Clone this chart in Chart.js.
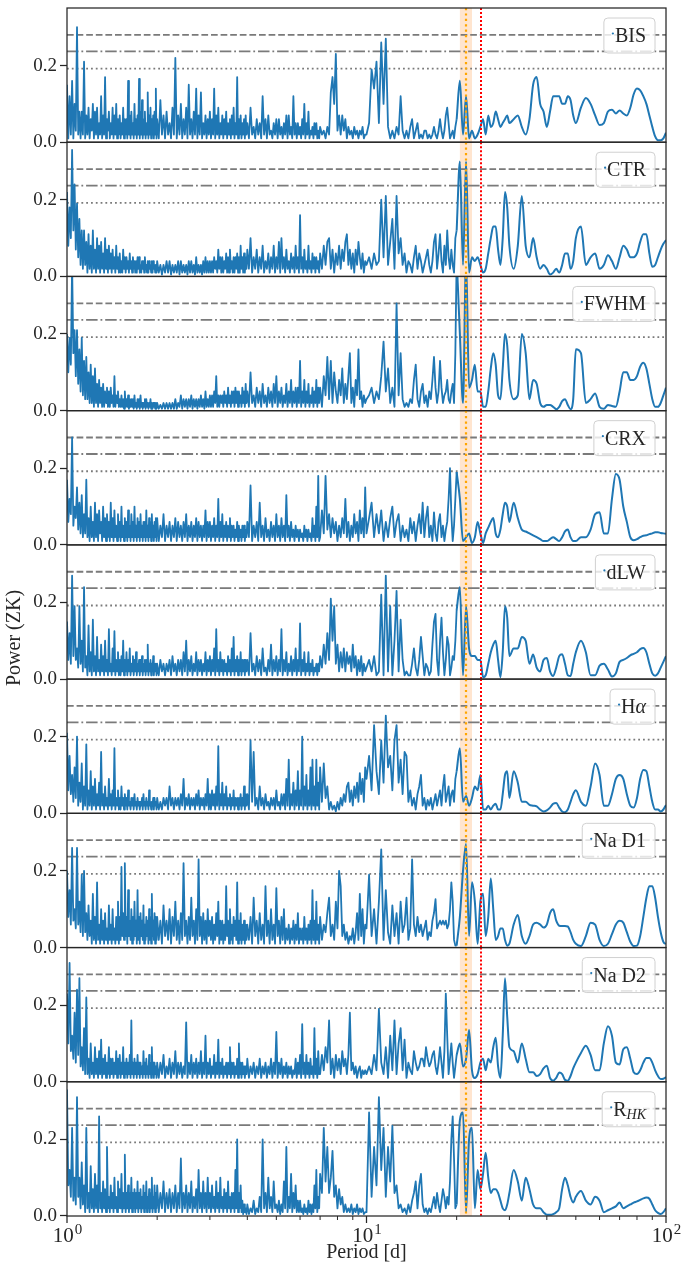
<!DOCTYPE html>
<html>
<head>
<meta charset="utf-8">
<script src="https://cdn.jsdelivr.net/npm/chart.js@4.4.0/dist/chart.umd.min.js"></script>
<style>
  html, body { margin: 0; padding: 0; background: #fff; }
  canvas { display: block; }
</style>
</head>
<body>
<canvas id="chart" width="681" height="1271"></canvas>
<script>
// period grid [d], shared by every panel
const periods = [
  1.00,1.01,1.02,1.03,1.04,1.05,1.06,1.07,1.08,1.09,1.10,1.11,1.12,1.13,1.14,1.15,1.16,1.17,1.18,1.19,1.20,1.21,1.22,1.23,1.24,
  1.25,1.26,1.27,1.28,1.29,1.30,1.31,1.32,1.33,1.34,1.35,1.36,1.37,1.38,1.39,1.40,1.41,1.42,1.43,1.44,1.45,1.46,1.47,1.48,1.49,
  1.50,1.51,1.52,1.53,1.54,1.55,1.56,1.57,1.58,1.59,1.60,1.61,1.62,1.63,1.64,1.65,1.66,1.67,1.68,1.69,1.70,1.71,1.72,1.73,1.74,
  1.75,1.76,1.77,1.78,1.79,1.80,1.81,1.82,1.83,1.84,1.85,1.86,1.87,1.88,1.89,1.90,1.91,1.92,1.93,1.94,1.95,1.96,1.97,1.98,1.99,
  2.000,2.025,2.050,2.075,2.100,2.125,2.150,2.175,2.200,2.225,2.250,2.275,2.300,2.325,2.350,2.375,2.400,2.425,2.450,2.475,
  2.500,2.525,2.550,2.575,2.600,2.625,2.650,2.675,2.700,2.725,2.750,2.775,2.800,2.825,2.850,2.875,2.900,2.925,2.950,2.975,
  3.000,3.025,3.050,3.075,3.100,3.125,3.150,3.175,3.200,3.225,3.250,3.275,3.300,3.325,3.350,3.375,3.400,3.425,3.450,3.475,
  3.500,3.525,3.550,3.575,3.600,3.625,3.650,3.675,3.700,3.725,3.750,3.775,3.800,3.825,3.850,3.875,3.900,3.925,3.950,3.975,
  4.00,4.05,4.10,4.15,4.20,4.25,4.30,4.35,4.40,4.45,4.50,4.55,4.60,4.65,4.70,4.75,4.80,4.85,4.90,4.95,
  5.00,5.05,5.10,5.15,5.20,5.25,5.30,5.35,5.40,5.45,5.50,5.55,5.60,5.65,5.70,5.75,5.80,5.85,5.90,5.95,
  6.00,6.05,6.10,6.15,6.20,6.25,6.30,6.35,6.40,6.45,6.50,6.55,6.60,6.65,6.70,6.75,6.80,6.85,6.90,6.95,
  7.0,7.1,7.2,7.3,7.4,7.5,7.6,7.7,7.8,7.9,
  8.0,8.1,8.2,8.3,8.4,8.5,8.6,8.7,8.8,8.9,9.0,9.1,9.2,9.3,9.4,9.5,9.6,9.7,9.8,9.9,
  10.0,10.2,10.4,10.6,10.8,11.0,11.2,11.4,11.6,11.8,12.0,12.2,12.4,12.6,12.8,13.0,13.2,13.4,13.6,13.8,14.0,14.2,14.4,14.6,14.8,
  15.0,15.2,15.4,15.6,15.8,16.0,16.2,16.4,16.6,16.8,17.0,17.2,17.4,17.6,17.8,18.0,18.2,18.4,18.6,18.8,19.0,19.2,19.4,19.6,19.8,
  20,20.5,21,21.5,22,22.5,23,23.5,24,24.5,25,25.5,26,26.5,27,27.5,28,28.5,29,29.5,
  30,31,32,33,34,35,36,37,38,39,40,41,42,43,44,45,46,47,48,49,
  50,52,54,56,58,60,62,64,66,68,70,72,74,76,78,80,82,84,86,88,90,92,94,96,98,100
];

// ZK power, one array per activity indicator
const bis = [
  .15,.01,.12,.02,.16,.01,.10,.03,.30,.02,.08,.01,.08,.02,.21,.01,.07,.02,.09,.01,.06,.03,.10,.01,.08,
  .02,.09,.01,.05,.02,.12,.01,.07,.02,.17,.01,.06,.03,.08,.01,.05,.02,.09,.01,.07,.02,.10,.01,.06,.02,
  .07,.01,.05,.02,.09,.01,.06,.02,.06,.01,.16,.02,.07,.01,.08,.02,.05,.01,.10,.02,.06,.01,.07,.02,.165,
  .01,.08,.02,.11,.01,.06,.02,.08,.01,.05,.02,.13,.01,.07,.02,.09,.01,.06,.02,.07,.01,.08,.02,.14,.01,
  .06,.01,.11,.02,.07,.01,.08,.02,.05,.01,.09,.02,.22,.01,.07,.02,.10,.01,.06,.02,.09,.01,.15,.02,.06,.01,.08,.02,.14,.01,.07,.02,.13,.01,.05,.02,.07,.01,.06,.02,
  .08,.01,.06,.02,.14,.01,.07,.02,.09,.01,.05,.02,.07,.01,.06,.02,.08,.01,.05,.02,.06,.01,.07,.02,.09,.01,.05,.02,.17,.01,.06,.02,.07,.01,.05,.02,.06,.01,.07,.02,
  .05,.01,.09,.02,.04,.01,.06,.02,.05,.01,.12,.02,.06,.01,.07,.02,.03,.01,.05,.02,
  .06,.01,.06,.02,.04,.01,.05,.02,.07,.01,.07,.02,.04,.01,.12,.02,.05,.01,.05,.02,
  .04,.01,.06,.02,.10,.01,.05,.02,.08,.01,.03,.02,.04,.01,.05,.02,.05,.01,.03,.01,
  .04,.02,.03,.01,.04,.02,.13,.17,.10,.23,
  .03,.07,.02,.07,.03,.06,.01,.04,.02,.03,.01,.04,.02,.03,.01,.03,.02,.04,.01,.02,
  .02,.05,.19,.14,.21,.05,.26,.10,.27,.04,.01,.03,.01,.04,.02,.12,.03,.01,.03,.01,.04,.06,.01,.03,.05,
  .01,.02,.01,.03,.03,.01,.02,.01,.02,.04,.02,.01,.03,.06,.03,.01,.03,.07,.09,.05,.01,.02,.03,.01,.04,
  .06,.16,.02,.12,.01,.03,.01,.02,.04,.06,.02,.07,.04,.05,.08,.06,.04,.05,.06,.07,
  .05,.06,.07,.04,.02,.06,.15,.17,.10,.08,.04,.08,.12,.12,.12,.10,.10,.12,.11,.07,
  .05,.09,.115,.10,.07,.045,.05,.08,.085,.075,.083,.075,.07,.09,.125,.14,.135,.12,.10,.07,.04,.015,.005,.005,.01,.025
];
const ctr = [
  .22,.08,.18,.10,.33,.12,.24,.07,.19,.05,.15,.03,.12,.02,.12,.03,.09,.01,.11,.02,.08,.01,.12,.02,.07,
  .01,.10,.02,.08,.01,.09,.02,.06,.01,.10,.02,.07,.01,.08,.02,.06,.01,.07,.02,.05,.01,.08,.02,.05,.01,
  .06,.01,.04,.01,.07,.02,.05,.01,.05,.02,.04,.01,.06,.02,.04,.01,.05,.02,.04,.01,.04,.01,.05,.02,.05,
  .01,.03,.01,.04,.02,.04,.01,.05,.02,.03,.01,.04,.01,.04,.02,.03,.01,.04,.01,.04,.02,.03,.01,.03,.01,
  .04,.01,.03,.005,.03,.01,.04,.01,.04,.005,.03,.01,.03,.01,.04,.005,.04,.01,.03,.01,.03,.005,.04,.01,.04,.01,.03,.005,.05,.01,.03,.01,.03,.005,.04,.01,.05,.01,.04,.01,
  .04,.01,.04,.01,.05,.02,.04,.01,.07,.02,.05,.01,.05,.01,.04,.02,.06,.01,.05,.01,.07,.02,.04,.01,.05,.01,.05,.02,.06,.01,.05,.01,.08,.02,.05,.01,.06,.01,.05,.02,
  .07,.02,.10,.01,.05,.02,.07,.01,.05,.02,.08,.01,.04,.02,.06,.01,.05,.02,.08,.01,
  .05,.02,.09,.01,.10,.02,.05,.01,.07,.02,.04,.01,.06,.02,.05,.01,.08,.02,.05,.01,
  .16,.02,.05,.01,.07,.02,.04,.01,.08,.02,.04,.01,.06,.02,.05,.01,.05,.02,.04,.01,
  .06,.02,.08,.03,.09,.10,.02,.07,.01,.06,
  .03,.08,.02,.07,.04,.09,.11,.03,.07,.02,.06,.01,.07,.03,.09,.05,.02,.06,.01,.04,
  .03,.05,.02,.06,.03,.04,.20,.05,.21,.03,.09,.15,.02,.21,.06,.10,.03,.06,.01,.04,.03,.01,.05,.08,.02,
  .06,.04,.01,.03,.05,.07,.03,.01,.04,.09,.11,.02,.06,.11,.04,.01,.08,.03,.12,.05,.02,.07,.03,.01,.10,
  .12,.30,.03,.30,.01,.05,.04,.05,.03,.01,.02,.06,.10,.13,.13,.07,.03,.10,.22,.18,
  .08,.02,.08,.21,.08,.05,.10,.05,.02,.03,.02,.005,.01,.02,.01,.03,.06,.06,.02,.04,
  .10,.13,.03,.05,.06,.02,.03,.055,.04,.02,.05,.08,.07,.05,.05,.06,.09,.11,.11,.06,.025,.03,.05,.07,.085,.095
];
const fwhm = [
  .20,.10,.19,.12,.38,.15,.21,.09,.21,.07,.16,.05,.19,.04,.13,.03,.14,.03,.10,.02,.12,.02,.09,.01,.11,
  .02,.07,.01,.08,.02,.06,.01,.07,.01,.05,.02,.06,.01,.05,.01,.06,.02,.04,.01,.09,.01,.04,.02,.05,.01,
  .03,.01,.04,.01,.03,.005,.05,.01,.03,.01,.04,.005,.03,.01,.03,.01,.03,.005,.04,.01,.02,.005,.03,.01,.03,
  .005,.04,.01,.02,.005,.02,.01,.03,.005,.03,.01,.02,.005,.02,.01,.03,.005,.02,.005,.02,.01,.02,.005,.02,.005,
  .02,.005,.015,.005,.02,.005,.02,.005,.02,.005,.02,.005,.03,.005,.02,.01,.04,.005,.03,.01,.03,.005,.03,.01,.04,.005,.03,.01,.03,.005,.03,.01,.04,.01,.03,.005,.05,.01,.03,.01,
  .04,.01,.04,.01,.05,.02,.09,.01,.04,.01,.04,.02,.04,.01,.05,.02,.04,.01,.06,.02,.04,.01,.05,.02,.05,.01,.06,.02,.05,.01,.05,.02,.04,.01,.06,.02,.05,.01,.07,.02,
  .05,.01,.10,.02,.04,.01,.06,.02,.05,.01,.07,.02,.04,.01,.06,.02,.05,.01,.07,.02,
  .09,.01,.05,.02,.06,.01,.04,.02,.07,.01,.05,.02,.08,.01,.05,.02,.06,.01,.06,.02,
  .13,.01,.05,.02,.08,.01,.05,.02,.07,.01,.04,.02,.06,.01,.05,.02,.08,.01,.06,.02,
  .06,.01,.09,.04,.14,.03,.13,.02,.10,.05,
  .02,.08,.04,.11,.02,.07,.03,.09,.15,.02,.06,.01,.08,.04,.16,.03,.05,.01,.04,.02,
  .03,.04,.06,.02,.05,.03,.09,.18,.05,.11,.02,.06,.01,.28,.04,.15,.03,.01,.02,.01,.03,.02,.08,.12,.03,
  .01,.05,.07,.02,.04,.01,.05,.03,.08,.14,.06,.02,.05,.13,.06,.02,.04,.05,.08,.03,.02,.05,.07,.02,.15,
  .40,.20,.02,.40,.06,.08,.12,.05,.05,.01,.01,.05,.11,.15,.12,.04,.03,.11,.20,.17,
  .08,.03,.04,.20,.15,.03,.08,.07,.02,.01,.015,.015,.01,.004,.01,.025,.03,.015,.004,.03,
  .16,.15,.02,.03,.045,.01,.005,.015,.012,.01,.05,.10,.10,.08,.08,.09,.115,.125,.11,.07,.03,.01,.01,.02,.04,.06
];
const crx = [
  .17,.06,.12,.08,.28,.05,.10,.07,.15,.04,.11,.03,.13,.02,.08,.03,.17,.02,.07,.01,.10,.02,.06,.01,.11,
  .02,.08,.01,.09,.03,.06,.01,.10,.02,.07,.01,.08,.02,.06,.01,.11,.02,.07,.01,.09,.02,.05,.01,.08,.02,
  .06,.01,.10,.02,.05,.01,.07,.02,.06,.01,.09,.02,.05,.01,.08,.02,.06,.01,.10,.02,.05,.01,.07,.02,.06,
  .01,.08,.02,.05,.01,.06,.02,.06,.01,.09,.02,.05,.01,.07,.02,.06,.01,.08,.02,.05,.01,.06,.02,.07,.01,
  .07,.01,.05,.02,.08,.01,.05,.02,.06,.01,.05,.02,.07,.01,.06,.02,.05,.01,.06,.02,.08,.01,.05,.02,.06,.01,.05,.02,.07,.01,.06,.02,.05,.01,.05,.02,.09,.01,.06,.02,
  .06,.01,.05,.02,.07,.01,.05,.02,.12,.01,.06,.02,.08,.01,.05,.02,.06,.01,.05,.02,.07,.01,.05,.02,.05,.01,.04,.02,.06,.01,.05,.02,.04,.01,.05,.02,.05,.01,.04,.02,
  .06,.02,.155,.01,.05,.02,.06,.01,.11,.02,.05,.01,.07,.02,.04,.01,.06,.02,.05,.01,
  .08,.02,.05,.01,.07,.02,.05,.01,.13,.02,.05,.01,.06,.02,.04,.01,.05,.02,.04,.01,
  .04,.02,.03,.01,.05,.02,.04,.01,.04,.02,.03,.01,.07,.02,.05,.01,.10,.02,.18,.01,
  .02,.09,.03,.18,.04,.08,.02,.07,.03,.06,
  .01,.05,.02,.07,.03,.12,.02,.06,.01,.05,.02,.08,.03,.06,.01,.09,.03,.07,.02,.15,
  .03,.07,.11,.02,.08,.03,.09,.01,.06,.02,.07,.10,.02,.06,.08,.01,.05,.02,.04,.01,.07,.03,.06,.01,.05,
  .08,.03,.11,.02,.07,.10,.02,.05,.01,.085,.03,.01,.06,.08,.02,.05,.01,.04,.06,.12,.20,.08,.01,.05,.12,
  .19,.12,.01,.02,.03,.005,.02,.06,.03,.005,.03,.045,.06,.07,.03,.02,.04,.08,.11,.10,
  .06,.11,.07,.04,.035,.03,.025,.02,.015,.01,.01,.015,.02,.015,.01,.02,.035,.04,.02,.01,
  .01,.02,.02,.04,.08,.085,.03,.03,.12,.185,.17,.10,.06,.02,.012,.015,.02,.024,.025,.028,.03,.033,.033,.031,.03,.029
];
const dlw = [
  .15,.05,.12,.04,.27,.06,.19,.05,.08,.03,.19,.04,.10,.02,.24,.03,.06,.01,.14,.02,.07,.01,.155,.02,.06,
  .01,.11,.02,.05,.01,.09,.02,.06,.01,.10,.02,.05,.01,.13,.02,.04,.01,.08,.02,.125,.01,.05,.02,.07,.01,
  .05,.01,.06,.02,.10,.01,.05,.02,.07,.01,.05,.02,.08,.01,.04,.02,.06,.01,.05,.02,.07,.01,.04,.02,.05,
  .01,.05,.02,.06,.01,.04,.02,.05,.01,.05,.02,.09,.01,.04,.02,.05,.01,.04,.02,.06,.01,.04,.02,.04,.01,
  .04,.01,.05,.02,.04,.01,.04,.02,.05,.01,.06,.02,.04,.01,.05,.02,.05,.01,.07,.02,.10,.01,.05,.02,.06,.01,.04,.02,.07,.01,.05,.02,.05,.01,.04,.02,.07,.01,.05,.02,
  .06,.01,.05,.02,.08,.01,.13,.02,.05,.01,.07,.02,.05,.01,.05,.02,.04,.01,.06,.02,.05,.01,.08,.02,.11,.01,.05,.02,.06,.01,.05,.02,.07,.01,.05,.02,.05,.01,.05,.02,
  .05,.01,.12,.02,.04,.01,.06,.02,.05,.01,.08,.02,.03,.01,.05,.02,.09,.01,.05,.02,
  .06,.01,.05,.02,.13,.01,.05,.02,.07,.01,.04,.02,.06,.01,.05,.02,.08,.01,.05,.02,
  .145,.01,.05,.02,.07,.01,.04,.02,.07,.01,.04,.02,.05,.01,.03,.02,.04,.01,.04,.02,
  .06,.03,.09,.04,.12,.05,.21,.10,.19,.04,
  .09,.02,.07,.03,.08,.02,.07,.04,.06,.02,.09,.03,.06,.01,.05,.02,.06,.01,.04,.02,
  .03,.05,.02,.06,.01,.02,.22,.01,.27,.02,.19,.01,.10,.23,.02,.155,.05,.01,.02,.01,.01,.04,.08,.03,.01,
  .05,.11,.06,.01,.04,.03,.01,.02,.09,.15,.17,.05,.01,.10,.16,.07,.01,.05,.11,.09,.01,.03,.06,.05,.10,
  .18,.24,.01,.19,.08,.06,.06,.05,.05,.005,.01,.04,.07,.09,.10,.05,.005,.07,.19,.16,
  .06,.08,.08,.11,.10,.04,.064,.03,.02,.05,.055,.02,.008,.03,.06,.065,.04,.01,.008,.04,
  .07,.10,.07,.01,.01,.035,.04,.025,.007,.015,.045,.05,.055,.062,.066,.07,.078,.081,.07,.04,.015,.009,.015,.03,.045,.06
];
const halpha = [
  .21,.06,.15,.05,.10,.03,.12,.04,.20,.02,.08,.03,.13,.01,.07,.02,.18,.01,.06,.02,.11,.01,.07,.02,.09,
  .01,.05,.02,.08,.01,.16,.02,.05,.01,.07,.02,.04,.01,.09,.02,.05,.01,.06,.02,.17,.01,.04,.02,.06,.01,
  .04,.01,.07,.02,.04,.01,.05,.02,.04,.01,.06,.02,.03,.01,.04,.02,.04,.01,.05,.02,.03,.01,.04,.02,.03,
  .01,.03,.02,.04,.01,.05,.02,.03,.01,.04,.02,.03,.01,.06,.02,.03,.01,.03,.02,.04,.01,.04,.02,.03,.01,
  .04,.01,.03,.01,.04,.02,.04,.01,.07,.02,.04,.01,.04,.02,.04,.01,.05,.02,.09,.01,.04,.02,.05,.01,.04,.02,.04,.01,.05,.02,.06,.01,.04,.02,.04,.01,.05,.02,.09,.01,
  .05,.01,.06,.02,.05,.01,.07,.02,.175,.01,.05,.02,.08,.01,.05,.02,.07,.01,.04,.02,.05,.01,.04,.02,.06,.01,.04,.02,.04,.01,.04,.02,.05,.01,.04,.02,.07,.01,.05,.02,
  .05,.01,.19,.03,.16,.02,.04,.01,.07,.02,.04,.01,.05,.02,.03,.01,.04,.02,.04,.01,
  .06,.02,.03,.01,.05,.02,.05,.01,.09,.02,.14,.01,.05,.02,.08,.01,.06,.02,.11,.01,
  .06,.02,.20,.01,.07,.02,.10,.01,.06,.02,.12,.01,.14,.02,.07,.01,.14,.02,.08,.01,
  .12,.03,.13,.04,.07,.01,.03,.01,.02,.005,
  .03,.01,.04,.02,.05,.03,.07,.08,.03,.06,.02,.07,.04,.08,.03,.105,.05,.09,.03,.12,
  .09,.15,.06,.23,.11,.05,.19,.08,.255,.12,.15,.06,.19,.23,.08,.14,.05,.16,.15,.03,.06,.02,.04,.01,.05,
  .07,.10,.02,.04,.01,.035,.02,.04,.01,.03,.05,.02,.04,.06,.02,.07,.10,.03,.05,.07,.02,.05,.06,.03,.09,
  .11,.17,.03,.045,.02,.04,.07,.06,.10,.01,.01,.02,.01,.02,.025,.01,.01,.05,.10,.11,
  .04,.11,.08,.03,.03,.022,.02,.018,.01,.005,.008,.015,.025,.027,.015,.005,.003,.01,.03,.05,
  .06,.03,.02,.07,.13,.10,.02,.02,.05,.09,.10,.09,.05,.02,.015,.04,.09,.113,.11,.07,.03,.01,.01,.005,.01,.022
];
const nad1 = [
  .20,.08,.15,.06,.26,.07,.10,.05,.26,.06,.12,.04,.19,.03,.20,.04,.09,.02,.11,.03,.07,.01,.14,.02,.08,
  .01,.17,.02,.06,.01,.10,.02,.07,.01,.09,.02,.05,.01,.11,.02,.06,.01,.10,.02,.05,.01,.08,.02,.12,.01,
  .08,.02,.21,.03,.09,.02,.22,.03,.08,.01,.15,.03,.07,.02,.10,.01,.08,.02,.12,.03,.07,.01,.15,.02,.08,
  .01,.09,.03,.07,.02,.11,.01,.06,.02,.08,.03,.07,.01,.10,.02,.08,.01,.14,.03,.07,.02,.09,.01,.08,.02,
  .08,.02,.07,.01,.11,.03,.07,.02,.10,.01,.08,.03,.12,.02,.07,.01,.09,.02,.22,.03,.07,.01,.08,.02,.13,.03,.07,.01,.10,.02,.23,.03,.08,.01,.09,.02,.07,.01,.10,.03,
  .07,.02,.08,.01,.06,.02,.09,.03,.12,.01,.07,.02,.07,.01,.06,.02,.16,.03,.07,.01,.10,.02,.06,.01,.08,.03,.07,.02,.17,.01,.07,.02,.09,.01,.06,.02,.07,.01,.06,.02,
  .06,.02,.08,.01,.13,.03,.07,.01,.09,.02,.06,.01,.16,.03,.07,.01,.10,.02,.06,.01,
  .155,.03,.07,.01,.08,.02,.10,.01,.05,.02,.06,.01,.05,.02,.07,.01,.06,.02,.09,.01,
  .05,.02,.05,.01,.08,.02,.05,.01,.06,.02,.07,.01,.15,.02,.07,.01,.12,.02,.06,.01,
  .08,.02,.06,.04,.09,.13,.03,.06,.02,.12,
  .05,.20,.16,.03,.06,.02,.04,.01,.03,.02,.05,.01,.04,.09,.02,.14,.03,.10,.01,.06,
  .05,.19,.03,.10,.01,.12,.256,.02,.15,.04,.01,.11,.03,.09,.01,.12,.04,.06,.13,.02,.05,.23,.06,.03,.08,
  .04,.06,.03,.05,.07,.02,.04,.03,.07,.09,.126,.05,.06,.07,.06,.07,.06,.07,.05,.06,.10,.17,.12,.02,.005,
  .005,.08,.20,.27,.03,.17,.12,.01,.12,.14,.03,.08,.18,.10,.02,.03,.05,.05,.02,.005,
  .01,.06,.085,.03,.01,.03,.06,.065,.06,.052,.06,.09,.10,.07,.057,.056,.056,.055,.04,.02,
  .01,.004,.03,.065,.06,.02,.004,.01,.035,.06,.07,.065,.04,.015,.004,.005,.03,.08,.13,.16,.16,.13,.08,.04,.015,.009
];
const nad2 = [
  .23,.10,.31,.08,.12,.06,.18,.05,.24,.07,.27,.04,.09,.03,.14,.02,.22,.02,.06,.01,.10,.02,.05,.01,.09,
  .02,.06,.01,.08,.02,.11,.01,.06,.02,.07,.01,.05,.02,.09,.01,.06,.02,.06,.01,.05,.02,.08,.01,.06,.02,
  .07,.01,.05,.02,.09,.01,.05,.02,.06,.01,.05,.02,.07,.01,.16,.02,.05,.01,.06,.02,.05,.01,.07,.02,.05,
  .01,.05,.02,.04,.01,.08,.02,.05,.01,.06,.02,.04,.01,.07,.02,.05,.01,.09,.02,.05,.01,.05,.02,.04,.01,
  .05,.01,.05,.02,.07,.01,.04,.02,.06,.01,.05,.02,.08,.01,.05,.02,.05,.01,.04,.02,.155,.01,.05,.02,.07,.01,.05,.02,.06,.01,.05,.02,.08,.01,.05,.02,.12,.01,.05,.02,
  .06,.01,.04,.02,.07,.01,.05,.02,.11,.01,.05,.02,.06,.01,.04,.02,.05,.01,.05,.02,.09,.01,.05,.02,.05,.01,.04,.02,.06,.01,.10,.02,.05,.01,.05,.02,.04,.01,.04,.02,
  .06,.01,.04,.02,.05,.01,.04,.02,.06,.01,.04,.02,.05,.01,.04,.02,.06,.01,.05,.02,
  .13,.01,.05,.02,.06,.01,.04,.02,.05,.01,.04,.02,.04,.01,.03,.02,.06,.01,.05,.02,
  .07,.01,.15,.02,.05,.01,.07,.02,.05,.01,.06,.02,.04,.01,.14,.02,.06,.01,.08,.02,
  .02,.07,.03,.09,.05,.16,.02,.06,.01,.07,
  .03,.06,.02,.08,.04,.06,.02,.07,.18,.03,.05,.02,.04,.01,.03,.04,.01,.03,.02,.03,
  .02,.04,.02,.07,.03,.19,.05,.02,.09,.01,.12,.03,.16,.02,.10,.14,.03,.11,.01,.05,.03,.02,.08,.05,.03,
  .04,.06,.06,.04,.09,.06,.04,.05,.07,.08,.04,.02,.05,.09,.05,.01,.08,.23,.12,.02,.06,.10,.05,.01,.04,
  .07,.10,.04,.06,.135,.03,.01,.02,.05,.06,.03,.06,.05,.09,.115,.04,.01,.12,.27,.17,
  .09,.08,.05,.10,.06,.025,.025,.015,.02,.035,.042,.01,.003,.01,.024,.02,.005,.003,.015,.035,
  .05,.075,.094,.07,.03,.03,.10,.145,.12,.05,.045,.085,.09,.06,.025,.02,.03,.05,.062,.062,.05,.03,.015,.007,.008,.012
];
const rhk = [
  .33,.08,.12,.05,.23,.04,.10,.03,.31,.05,.10,.02,.14,.03,.08,.01,.23,.02,.06,.01,.13,.02,.07,.01,.11,
  .02,.08,.01,.26,.02,.06,.01,.09,.02,.07,.01,.18,.02,.05,.01,.08,.02,.06,.01,.10,.02,.05,.01,.09,.02,
  .07,.02,.11,.01,.06,.02,.16,.01,.06,.02,.08,.01,.06,.02,.10,.01,.06,.02,.07,.01,.06,.02,.09,.01,.06,
  .02,.07,.01,.05,.02,.08,.01,.06,.02,.09,.01,.05,.02,.07,.01,.06,.02,.10,.01,.05,.02,.08,.01,.06,.02,
  .08,.01,.06,.02,.09,.01,.06,.02,.07,.01,.06,.02,.08,.01,.06,.02,.15,.01,.06,.02,.08,.01,.06,.02,.09,.01,.05,.02,.07,.01,.12,.02,.06,.01,.09,.02,.06,.01,.10,.02,
  .06,.01,.08,.02,.05,.01,.09,.02,.06,.01,.10,.02,.05,.01,.07,.02,.06,.01,.09,.02,.05,.01,.06,.02,.06,.01,.12,.02,.20,.01,.06,.02,.08,.01,.04,.005,.03,.01,.02,.005,
  .03,.005,.02,.01,.04,.005,.02,.01,.05,.01,.20,.02,.06,.01,.10,.02,.05,.01,.09,.02,
  .03,.01,.04,.005,.03,.01,.09,.02,.18,.01,.05,.02,.11,.01,.06,.02,.08,.01,.04,.01,
  .04,.01,.02,.005,.03,.01,.02,.005,.04,.01,.03,.005,.03,.01,.08,.02,.12,.01,.05,.02,
  .11,.06,.23,.09,.18,.06,.10,.17,.05,.08,
  .02,.07,.03,.05,.01,.03,.01,.02,.01,.03,.005,.02,.01,.03,.005,.02,.01,.02,.005,.01,
  .01,.27,.05,.18,.08,.31,.12,.23,.05,.18,.09,.235,.06,.08,.02,.03,.01,.02,.005,.03,.01,.04,.06,.09,.02,
  .08,.11,.03,.01,.02,.005,.02,.01,.03,.05,.02,.06,.03,.01,.04,.07,.05,.02,.05,.03,.09,.20,.26,.15,.02,
  .03,.25,.27,.01,.20,.23,.02,.12,.07,.11,.165,.10,.06,.07,.07,.06,.04,.02,.015,.03,
  .06,.12,.09,.04,.10,.07,.03,.02,.02,.01,.003,.003,.005,.01,.02,.07,.10,.08,.05,.035,
  .05,.065,.04,.03,.05,.04,.01,.015,.02,.025,.035,.02,.025,.03,.035,.038,.042,.046,.048,.045,.03,.015,.008,.005,.01,.02
];

const series = [bis, ctr, fwhm, crx, dlw, halpha, nad1, nad2, rhk];
// legend text runs: [text, style]
const legendRuns = [
  [['BIS', 'n']], [['CTR', 'n']], [['FWHM', 'n']], [['CRX', 'n']], [['dLW', 'n']],
  [['H', 'n'], ['α', 'i']], [['Na D1', 'n']], [['Na D2', 'n']], [['R', 'n'], ['HK', 'sub']]
];

const yTicks = [0, 0.2];
const fapLevels = [0.280, 0.237, 0.192];   // dashed, dash-dot, dotted
const bandPeriods = [20.5, 22.5];
const orangePeriod = 21.5;
const redPeriod = 24.2;
const smoothFrom = 20;                     // periodogram is drawn smoothed from here on
const xMajor = [1, 10, 100];
const xMinor = [2, 3, 4, 5, 6, 7, 8, 9, 20, 30, 40, 50, 60, 70, 80, 90];
const xExponents = ['0', '1', '2'];

const BLUE = '#1f77b4';
const INK = '#262626';
const SERIF = '"Liberation Serif", "Times New Roman", serif';
const ids = series.map((_, i) => 'y' + i);

series.forEach((s, i) => {
  if (s.length !== periods.length) console.warn('length mismatch', i, s.length);
});

const scales = {
  x: {
    type: 'logarithmic', position: 'bottom', min: 1, max: 100,
    grid: { display: false }, border: { display: false }, ticks: { display: false },
    afterFit: s => { s.height = 55; s.paddingLeft = 0; s.paddingRight = 0; }
  }
};
ids.forEach((id, i) => {
  scales[id] = {
    type: 'linear', position: 'left', stack: 'panels', stackWeight: 1,
    weight: ids.length - i, min: 0, max: 0.35,
    afterBuildTicks: s => { s.ticks = yTicks.map(v => ({ value: v })); },
    afterFit: s => { s.width = 67; s.paddingTop = 0; s.paddingBottom = 0; },
    grid: { drawOnChartArea: false, drawTicks: true, tickLength: 7, tickWidth: 1.25, tickColor: INK },
    border: { display: false },
    ticks: { font: { family: SERIF, size: 19 }, color: INK, padding: 3, callback: v => v.toFixed(1) }
  };
});

// two line pieces per panel: raw spiky part, smoothed long-period part
const split = periods.indexOf(smoothFrom);
const datasets = [];
series.forEach((vals, i) => {
  const pts = periods.map((p, k) => ({ x: p, y: vals[k] }));
  const common = {
    yAxisID: ids[i], borderColor: BLUE, pointRadius: 0,
    fill: false, clip: false, borderJoinStyle: 'round'
  };
  datasets.push(Object.assign({ label: 'raw' + i, data: pts.slice(0, split + 1), tension: 0, borderWidth: 1.8 }, common));
  datasets.push(Object.assign({ label: 'smooth' + i, data: pts.slice(split), cubicInterpolationMode: 'monotone', borderWidth: 2 }, common));
});

function dashLine(ctx, x0, y0, x1, y1, dash, color, width) {
  ctx.save();
  ctx.strokeStyle = color;
  ctx.lineWidth = width;
  ctx.setLineDash(dash);
  ctx.beginPath();
  ctx.moveTo(x0, y0);
  ctx.lineTo(x1, y1);
  ctx.stroke();
  ctx.restore();
}

function runFont(style) {
  if (style === 'i') return 'italic 20px ' + SERIF;
  if (style === 'sub') return 'italic 14px ' + SERIF;
  return '20px ' + SERIF;
}

function drawLegend(ctx, runs, right, top) {
  ctx.save();
  let w = 0;
  const parts = runs.map(([t, style]) => {
    ctx.font = runFont(style);
    const m = ctx.measureText(t).width;
    w += m;
    return { t, style, m };
  });
  const bw = w + 20, bh = 35, left = right - bw, r = 4;
  ctx.beginPath();
  ctx.moveTo(left + r, top);
  ctx.arcTo(left + bw, top, left + bw, top + bh, r);
  ctx.arcTo(left + bw, top + bh, left, top + bh, r);
  ctx.arcTo(left, top + bh, left, top, r);
  ctx.arcTo(left, top, left + bw, top, r);
  ctx.closePath();
  ctx.fillStyle = 'rgba(255,255,255,0.8)';
  ctx.fill();
  ctx.strokeStyle = '#d0d0d0';
  ctx.lineWidth = 1;
  ctx.stroke();
  ctx.fillStyle = BLUE;
  ctx.beginPath();
  ctx.arc(left + 9, top + 15.5, 1.1, 0, Math.PI * 2);
  ctx.fill();
  ctx.fillStyle = INK;
  ctx.textBaseline = 'alphabetic';
  ctx.textAlign = 'left';
  let x = left + 11;
  parts.forEach(p => {
    ctx.font = runFont(p.style);
    ctx.fillText(p.t, x, top + 24 + (p.style === 'sub' ? 3 : 0));
    x += p.m;
  });
  ctx.restore();
}

const panelsPlugin = {
  id: 'panels',
  beforeDatasetsDraw(chart) {
    const { ctx } = chart;
    const xs = chart.scales.x;
    const dashes = [[6.7, 2.9], [11.5, 2.9, 1.8, 2.9], [1.8, 3]];
    ids.forEach(id => {
      const ys = chart.scales[id];
      const b0 = xs.getPixelForValue(bandPeriods[0]);
      const b1 = xs.getPixelForValue(bandPeriods[1]);
      ctx.save();
      ctx.fillStyle = 'rgba(255,127,14,0.2)';
      ctx.fillRect(b0, ys.top, b1 - b0, ys.bottom - ys.top);
      ctx.restore();
      fapLevels.forEach((v, j) => {
        const y = ys.getPixelForValue(v);
        dashLine(ctx, xs.left, y, xs.right, y, dashes[j], '#7a7a7a', 1.8);
      });
    });
  },
  beforeDatasetDraw(chart, args) {
    const xs = chart.scales.x;
    const ys = chart.scales[chart.data.datasets[args.index].yAxisID];
    chart.ctx.save();
    chart.ctx.beginPath();
    chart.ctx.rect(xs.left, ys.top, xs.right - xs.left, ys.bottom - ys.top);
    chart.ctx.clip();
  },
  afterDatasetDraw(chart) {
    chart.ctx.restore();
  },
  afterDatasetsDraw(chart) {
    const { ctx } = chart;
    const xs = chart.scales.x;
    const xo = Math.round(xs.getPixelForValue(orangePeriod));
    const xr = Math.round(xs.getPixelForValue(redPeriod));
    ids.forEach((id, i) => {
      const ys = chart.scales[id];
      dashLine(ctx, xo, ys.top, xo, ys.bottom, [2.2, 3.2], '#ffa500', 2.2);
      dashLine(ctx, xr, ys.top, xr, ys.bottom, [2, 2], '#ff0000', 2);
      ctx.save();
      ctx.strokeStyle = INK;
      ctx.lineWidth = 1.25;
      ctx.strokeRect(xs.left, ys.top, xs.right - xs.left, ys.bottom - ys.top);
      ctx.restore();
      drawLegend(ctx, legendRuns[i], xs.right - 11, ys.top + 10);
    });

    // x ticks on the bottom panel
    const bottom = chart.scales[ids[ids.length - 1]].bottom;
    ctx.save();
    ctx.strokeStyle = INK;
    xMinor.forEach(v => {
      const x = xs.getPixelForValue(v);
      ctx.lineWidth = 1;
      ctx.beginPath(); ctx.moveTo(x, bottom); ctx.lineTo(x, bottom + 4); ctx.stroke();
    });
    xMajor.forEach((v, k) => {
      const x = xs.getPixelForValue(v);
      ctx.lineWidth = 1.25;
      ctx.beginPath(); ctx.moveTo(x, bottom); ctx.lineTo(x, bottom + 7); ctx.stroke();
      ctx.fillStyle = INK;
      ctx.textBaseline = 'alphabetic';
      ctx.textAlign = 'left';
      ctx.font = '21px ' + SERIF;
      const wb = ctx.measureText('10').width;
      ctx.font = '15px ' + SERIF;
      const we = ctx.measureText(xExponents[k]).width;
      const x0 = x - (wb + we) / 2;
      ctx.font = '21px ' + SERIF;
      ctx.fillText('10', x0, bottom + 26);
      ctx.font = '15px ' + SERIF;
      ctx.fillText(xExponents[k], x0 + wb + 1, bottom + 18);
    });

    // axis titles
    ctx.font = '20px ' + SERIF;
    ctx.textAlign = 'center';
    ctx.textBaseline = 'middle';
    ctx.fillText('Period [d]', (xs.left + xs.right) / 2, bottom + 37);
    ctx.translate(15, 638);
    ctx.rotate(-Math.PI / 2);
    ctx.fillText('Power (ZK)', 0, 0);
    ctx.restore();
  }
};

new Chart(document.getElementById('chart'), {
  type: 'line',
  data: { datasets },
  options: {
    responsive: false,
    animation: false,
    devicePixelRatio: 1,
    layout: { padding: { top: 8, right: 15, left: 0, bottom: 0 } },
    plugins: { legend: { display: false }, tooltip: { enabled: false } },
    scales
  },
  plugins: [panelsPlugin]
});
</script>
</body>
</html>
